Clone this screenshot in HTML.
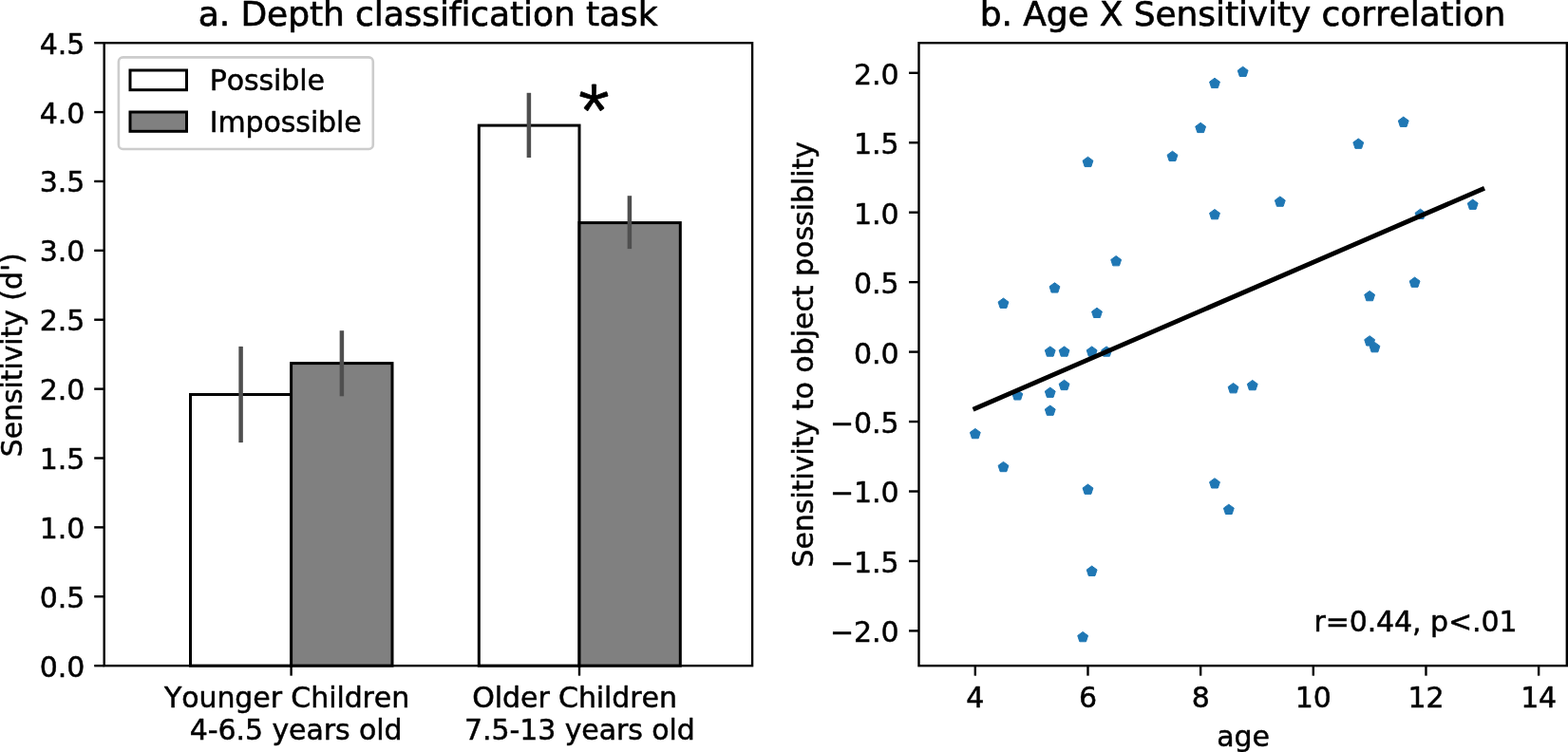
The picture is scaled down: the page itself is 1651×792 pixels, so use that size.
<!DOCTYPE html>
<html lang="en"><head><meta charset="utf-8"><title>Figure</title>
<style>
html,body{margin:0;padding:0;background:#fff;}
body{width:1651px;height:792px;overflow:hidden;}
svg{display:block;}
text{letter-spacing:-0.09px;font-kerning:none;font-variant-ligatures:none;font-feature-settings:"liga" 0,"clig" 0,"kern" 0;stroke:#000;stroke-width:0.5px;stroke-linejoin:round;}
text.t{stroke-width:0.65px;}
</style></head><body>
<svg width="1651" height="792" viewBox="0 0 1651 792" font-family='"DejaVu Sans", "Liberation Sans", sans-serif' font-size="30.0" fill="#000">
<rect x="0" y="0" width="1651" height="792" fill="#fff"/>
<g stroke="#000" stroke-width="3.00" stroke-linejoin="miter">
<rect x="200.50" y="415.50" width="106.10" height="285.65" fill="#fff"/>
<rect x="306.60" y="382.60" width="106.40" height="318.55" fill="#808080"/>
<rect x="504.30" y="132.10" width="105.70" height="569.05" fill="#fff"/>
<rect x="610.00" y="234.60" width="106.30" height="466.55" fill="#808080"/>
</g>
<g stroke="#4f4f4f" stroke-width="4.5" fill="none">
<line x1="253.6" y1="364.9" x2="253.6" y2="466.1"/>
<line x1="359.9" y1="348.2" x2="359.9" y2="417.3"/>
<line x1="556.9" y1="97.8" x2="556.9" y2="166.0"/>
<line x1="662.9" y1="206.2" x2="662.9" y2="262.1"/>
</g>
<rect x="109.7" y="45.2" width="682.40" height="655.95" fill="none" stroke="#000" stroke-width="2.4"/>
<g stroke="#000" stroke-width="2.4">
<line x1="99.2" y1="701.15" x2="109.7" y2="701.15"/>
<line x1="99.2" y1="628.27" x2="109.7" y2="628.27"/>
<line x1="99.2" y1="555.38" x2="109.7" y2="555.38"/>
<line x1="99.2" y1="482.50" x2="109.7" y2="482.50"/>
<line x1="99.2" y1="409.62" x2="109.7" y2="409.62"/>
<line x1="99.2" y1="336.73" x2="109.7" y2="336.73"/>
<line x1="99.2" y1="263.85" x2="109.7" y2="263.85"/>
<line x1="99.2" y1="190.97" x2="109.7" y2="190.97"/>
<line x1="99.2" y1="118.08" x2="109.7" y2="118.08"/>
<line x1="99.2" y1="45.20" x2="109.7" y2="45.20"/>
<line x1="306.6" y1="701.15" x2="306.6" y2="711.65"/>
<line x1="610.0" y1="701.15" x2="610.0" y2="711.65"/>
</g>
<text x="89.20" y="712.65" text-anchor="end">0.0</text>
<text x="89.20" y="639.77" text-anchor="end">0.5</text>
<text x="89.20" y="566.88" text-anchor="end">1.0</text>
<text x="89.20" y="494.00" text-anchor="end">1.5</text>
<text x="89.20" y="421.12" text-anchor="end">2.0</text>
<text x="89.20" y="348.23" text-anchor="end">2.5</text>
<text x="89.20" y="275.35" text-anchor="end">3.0</text>
<text x="89.20" y="202.47" text-anchor="end">3.5</text>
<text x="89.20" y="129.58" text-anchor="end">4.0</text>
<text x="89.20" y="56.70" text-anchor="end">4.5</text>
<text x="173.00" y="745.00">Younger Children</text>
<text x="199.80" y="779.10">4-6.5 years old</text>
<text x="497.30" y="745.00">Older Children</text>
<text x="489.10" y="779.10">7.5-13 years old</text>
<text x="208.80" y="27.10" font-size="36.0" class="t">a. Depth classification task</text>
<text transform="translate(23.10,481.30) rotate(-90)">Sensitivity (d')</text>
<rect x="124.9" y="60.4" width="267.9" height="96.6" rx="4.5" ry="4.5" fill="#fff" fill-opacity="0.8" stroke="#ccc" stroke-width="2.6"/>
<rect x="137" y="74" width="59.5" height="20.7" fill="#fff" stroke="#000" stroke-width="3.0"/>
<rect x="137" y="118" width="59.5" height="20.3" fill="#808080" stroke="#000" stroke-width="3.0"/>
<text x="220.70" y="94.70">Possible</text>
<text x="220.70" y="138.70">Impossible</text>
<text x="625.20" y="130.60" font-size="74" text-anchor="middle" font-family="NanumGothic, 'Liberation Sans', sans-serif" style="stroke-width:0.8px">*</text>
<g fill="#1f77b4" stroke="#1f77b4" stroke-width="1.0" stroke-linejoin="round">
<polygon points="1145.49,165.26 1150.91,169.20 1148.84,175.57 1142.14,175.57 1140.07,169.20"/>
<polygon points="1234.49,159.24 1239.91,163.18 1237.84,169.55 1231.14,169.55 1229.07,163.18"/>
<polygon points="1264.15,129.27 1269.57,133.21 1267.50,139.58 1260.80,139.58 1258.73,133.21"/>
<polygon points="1278.98,82.26 1284.41,86.20 1282.34,92.58 1275.63,92.58 1273.56,86.20"/>
<polygon points="1308.65,70.22 1314.07,74.16 1312.00,80.53 1305.30,80.53 1303.23,74.16"/>
<polygon points="1430.28,146.02 1435.70,149.96 1433.63,156.33 1426.93,156.33 1424.86,149.96"/>
<polygon points="1477.74,123.10 1483.16,127.04 1481.09,133.41 1474.39,133.41 1472.32,127.04"/>
<polygon points="1278.98,220.50 1284.41,224.44 1282.34,230.81 1275.63,230.81 1273.56,224.44"/>
<polygon points="1175.16,269.56 1180.58,273.50 1178.51,279.87 1171.81,279.87 1169.74,273.50"/>
<polygon points="1110.49,297.77 1115.91,301.71 1113.84,308.08 1107.14,308.08 1105.07,301.71"/>
<polygon points="1056.50,314.07 1061.92,318.01 1059.85,324.38 1053.15,324.38 1051.07,318.01"/>
<polygon points="1154.98,324.21 1160.41,328.15 1158.33,334.52 1151.63,334.52 1149.56,328.15"/>
<polygon points="1347.81,206.98 1353.23,210.92 1351.16,217.29 1344.46,217.29 1342.39,210.92"/>
<polygon points="1495.54,220.20 1500.96,224.14 1498.89,230.51 1492.19,230.51 1490.12,224.14"/>
<polygon points="1550.72,210.07 1556.14,214.01 1554.07,220.38 1547.37,220.38 1545.30,214.01"/>
<polygon points="1489.61,292.04 1495.03,295.98 1492.96,302.35 1486.26,302.35 1484.19,295.98"/>
<polygon points="1442.14,306.43 1447.56,310.37 1445.49,316.75 1438.79,316.75 1436.72,310.37"/>
<polygon points="1105.74,364.90 1111.16,368.84 1109.09,375.21 1102.39,375.21 1100.32,368.84"/>
<polygon points="1120.57,364.90 1125.99,368.84 1123.92,375.21 1117.22,375.21 1115.15,368.84"/>
<polygon points="1149.64,364.90 1155.07,368.84 1152.99,375.21 1146.29,375.21 1144.22,368.84"/>
<polygon points="1165.07,364.90 1170.49,368.84 1168.42,375.21 1161.72,375.21 1159.65,368.84"/>
<polygon points="1120.57,400.30 1125.99,404.24 1123.92,410.61 1117.22,410.61 1115.15,404.24"/>
<polygon points="1105.74,408.09 1111.16,412.03 1109.09,418.40 1102.39,418.40 1100.32,412.03"/>
<polygon points="1071.33,410.73 1076.75,414.67 1074.68,421.04 1067.98,421.04 1065.91,414.67"/>
<polygon points="1105.74,427.04 1111.16,430.98 1109.09,437.35 1102.39,437.35 1100.32,430.98"/>
<polygon points="1026.83,451.42 1032.25,455.36 1030.18,461.74 1023.48,461.74 1021.41,455.36"/>
<polygon points="1298.56,403.53 1303.98,407.47 1301.91,413.85 1295.21,413.85 1293.14,407.47"/>
<polygon points="1318.74,400.45 1324.16,404.39 1322.09,410.76 1315.39,410.76 1313.32,404.39"/>
<polygon points="1442.14,353.74 1447.56,357.67 1445.49,364.05 1438.79,364.05 1436.72,357.67"/>
<polygon points="1447.48,360.49 1452.90,364.43 1450.83,370.80 1444.13,370.80 1442.06,364.43"/>
<polygon points="1056.50,486.39 1061.92,490.32 1059.85,496.70 1053.15,496.70 1051.07,490.32"/>
<polygon points="1145.49,510.04 1150.91,513.98 1148.84,520.35 1142.14,520.35 1140.07,513.98"/>
<polygon points="1278.98,503.72 1284.41,507.66 1282.34,514.03 1275.63,514.03 1273.56,507.66"/>
<polygon points="1293.82,531.19 1299.24,535.13 1297.17,541.50 1290.47,541.50 1288.40,535.13"/>
<polygon points="1149.64,596.12 1155.07,600.06 1152.99,606.43 1146.29,606.43 1144.22,600.06"/>
<polygon points="1140.15,665.46 1145.57,669.40 1143.50,675.77 1136.80,675.77 1134.73,669.40"/>
</g>
<line x1="1026.83" y1="430.2" x2="1560.80" y2="199.2" stroke="#000" stroke-width="4.9" stroke-linecap="square"/>
<rect x="967.5" y="45.2" width="682.30" height="655.95" fill="none" stroke="#000" stroke-width="2.4"/>
<g stroke="#000" stroke-width="2.4">
<line x1="957.0" y1="664.40" x2="967.5" y2="664.40"/>
<line x1="957.0" y1="590.95" x2="967.5" y2="590.95"/>
<line x1="957.0" y1="517.50" x2="967.5" y2="517.50"/>
<line x1="957.0" y1="444.05" x2="967.5" y2="444.05"/>
<line x1="957.0" y1="370.60" x2="967.5" y2="370.60"/>
<line x1="957.0" y1="297.15" x2="967.5" y2="297.15"/>
<line x1="957.0" y1="223.70" x2="967.5" y2="223.70"/>
<line x1="957.0" y1="150.25" x2="967.5" y2="150.25"/>
<line x1="957.0" y1="76.80" x2="967.5" y2="76.80"/>
<line x1="1026.83" y1="701.15" x2="1026.83" y2="711.65"/>
<line x1="1145.49" y1="701.15" x2="1145.49" y2="711.65"/>
<line x1="1264.15" y1="701.15" x2="1264.15" y2="711.65"/>
<line x1="1382.81" y1="701.15" x2="1382.81" y2="711.65"/>
<line x1="1501.47" y1="701.15" x2="1501.47" y2="711.65"/>
<line x1="1620.13" y1="701.15" x2="1620.13" y2="711.65"/>
</g>
<text x="946.50" y="676.30" text-anchor="end">−2.0</text>
<text x="946.50" y="602.85" text-anchor="end">−1.5</text>
<text x="946.50" y="529.40" text-anchor="end">−1.0</text>
<text x="946.50" y="455.95" text-anchor="end">−0.5</text>
<text x="946.50" y="382.50" text-anchor="end">0.0</text>
<text x="946.50" y="309.05" text-anchor="end">0.5</text>
<text x="946.50" y="235.60" text-anchor="end">1.0</text>
<text x="946.50" y="162.15" text-anchor="end">1.5</text>
<text x="946.50" y="88.70" text-anchor="end">2.0</text>
<text x="1026.83" y="745.00" text-anchor="middle">4</text>
<text x="1145.49" y="745.00" text-anchor="middle">6</text>
<text x="1264.15" y="745.00" text-anchor="middle">8</text>
<text x="1382.81" y="745.00" text-anchor="middle">10</text>
<text x="1501.47" y="745.00" text-anchor="middle">12</text>
<text x="1620.13" y="745.00" text-anchor="middle">14</text>
<text x="1031.70" y="27.10" font-size="36.0" class="t">b. Age X Sensitivity correlation</text>
<text transform="translate(855.50,597.60) rotate(-90)" style="letter-spacing:-0.030px">Sensitivity to object possiblity</text>
<text x="1281.30" y="785.80">age</text>
<text x="1383.40" y="664.70">r=0.44, p&lt;.01</text>
</svg>
</body></html>
